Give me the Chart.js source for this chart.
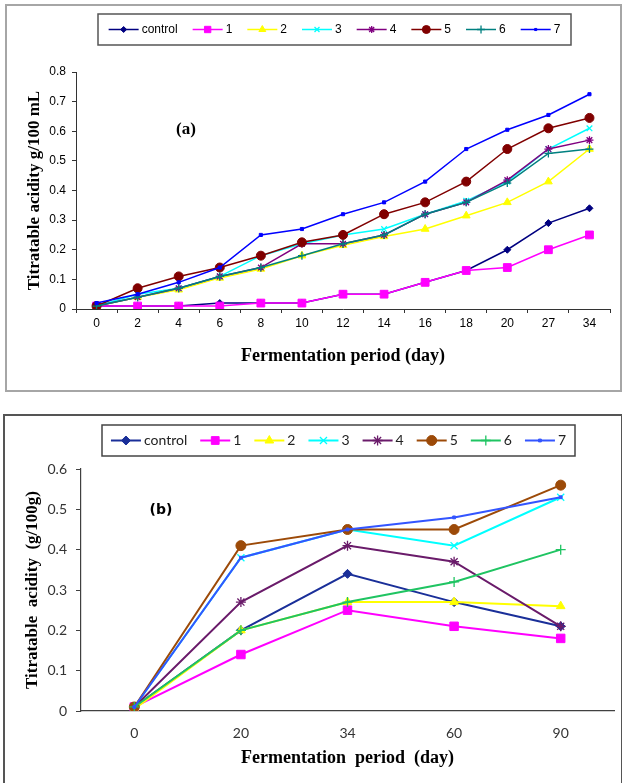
<!DOCTYPE html>
<html>
<head>
<meta charset="utf-8">
<script src="https://cdn.jsdelivr.net/npm/chart.js@4.4.1/dist/chart.umd.min.js"></script>
<style>
  body { margin: 0; background: #fff; }
  .box { position: absolute; box-sizing: border-box; }
  #boxA { left: 5px; top: 4px; width: 617px; height: 388px; border: 2px solid #a6a6a6; }
  #boxB { left: 3px; top: 414px; width: 620px; height: 376px; border: 2px solid #555; }
  canvas { display: block; }
</style>
</head>
<body>
<div class="box" id="boxA"><canvas id="graficoA" width="613" height="384"></canvas></div>
<div class="box" id="boxB"><canvas id="graficoB" width="616" height="372"></canvas></div>
<script>
const series = ['control', '1', '2', '3', '4', '5', '6', '7'];
const marcadores = ['rectRot', 'rect', 'triangle', 'crossRot', 'star', 'circle', 'cross', 'rect'];

// (a) acidez g/100 mL
const diasA = ['0', '2', '4', '6', '8', '10', '12', '14', '16', '18', '20', '27', '34'];
const controlA = [0.01, 0.01, 0.01, 0.02, 0.02, 0.02, 0.05, 0.05, 0.09, 0.13, 0.20, 0.29, 0.34];
const s1A = [0.01, 0.01, 0.01, 0.01, 0.02, 0.02, 0.05, 0.05, 0.09, 0.13, 0.14, 0.20, 0.25];
const s2A = [0.01, 0.04, 0.065, 0.105, 0.135, 0.18, 0.215, 0.245, 0.27, 0.315, 0.36, 0.43, 0.54];
const s3A = [0.01, 0.05, 0.07, 0.11, 0.18, 0.22, 0.25, 0.27, 0.32, 0.365, 0.43, 0.54, 0.61];
const s4A = [0.01, 0.04, 0.07, 0.11, 0.14, 0.22, 0.22, 0.25, 0.32, 0.36, 0.435, 0.54, 0.57];
const s5A = [0.01, 0.07, 0.11, 0.14, 0.18, 0.225, 0.25, 0.32, 0.36, 0.43, 0.54, 0.61, 0.645];
const s6A = [0.01, 0.04, 0.07, 0.11, 0.14, 0.18, 0.22, 0.25, 0.32, 0.36, 0.425, 0.525, 0.54];
const s7A = [0.02, 0.05, 0.09, 0.14, 0.25, 0.27, 0.32, 0.36, 0.43, 0.54, 0.605, 0.655, 0.725];
const ticksA = [0, 0.8, 0.1];

// (b) acidez g/100g
const diasB = ['0', '20', '34', '60', '90'];
const controlB = [0.01, 0.20, 0.34, 0.27, 0.21];
const s1B = [0.01, 0.14, 0.25, 0.21, 0.18];
const s2B = [0.005, 0.20, 0.27, 0.27, 0.26];
const s3B = [0.01, 0.38, 0.45, 0.41, 0.53];
const s4B = [0.01, 0.27, 0.41, 0.37, 0.21];
const s5B = [0.01, 0.41, 0.45, 0.45, 0.56];
const s6B = [0.01, 0.20, 0.27, 0.32, 0.40];
const s7B = [0.01, 0.38, 0.45, 0.48, 0.53];
const ticksB = [0, 0.6, 0.1];

const coresA = ['#000080', '#ff00ff', '#ffff00', '#00ffff', '#800080', '#800000', '#008080', '#0000ff'];
const coresB = ['#1a2f99', '#ff00ff', '#ffff00', '#00ffff', '#6a1b6a', '#9c4a08', '#1fc462', '#3355ff'];

// legenda com linha + marcador e rótulo do painel
const legendaBox = {
    id: 'legendaBox',
    afterDraw(chart, args, o) {
        const ctx = chart.ctx;
        const b = o.box;
        ctx.save();
        ctx.strokeStyle = o.borderColor;
        ctx.lineWidth = 1.5;
        ctx.strokeRect(b.left, b.top, b.right - b.left, b.bottom - b.top);
        ctx.font = o.font;
        ctx.textBaseline = 'middle';
        ctx.textAlign = 'left';
        const itens = chart.data.datasets.map(ds => ({ ds, w: ctx.measureText(ds.label).width }));
        const total = itens.reduce((s, it) => s + o.line + o.gap + it.w, 0) + o.space * (itens.length - 1);
        let x = (b.left + b.right) / 2 - total / 2;
        const y = (b.top + b.bottom) / 2;
        itens.forEach(({ ds, w }, i) => {
            ctx.strokeStyle = ds.borderColor;
            ctx.lineWidth = ds.borderWidth;
            ctx.beginPath();
            ctx.moveTo(x, y);
            ctx.lineTo(x + o.line, y);
            ctx.stroke();
            ctx.fillStyle = ds.pointBackgroundColor;
            ctx.strokeStyle = ds.pointBorderColor;
            ctx.lineWidth = ds.pointBorderWidth;
            Chart.helpers.drawPoint(ctx, { pointStyle: ds.pointStyle, radius: o.radius[i], rotation: 0, borderWidth: ds.pointBorderWidth }, x + o.line / 2, y);
            ctx.fillStyle = o.color;
            ctx.fillText(ds.label, x + o.line + o.gap, y);
            x += o.line + o.gap + w + o.space;
        });
        ctx.font = o.tagFont;
        ctx.textAlign = 'center';
        ctx.fillStyle = '#000';
        ctx.fillText(o.tag, o.tagX, o.tagY);
        ctx.restore();
    }
};

function montarSeries(valores, cores, raios, espessura) {
    return series.map((nome, i) => ({
        label: nome,
        data: valores[i],
        borderColor: cores[i],
        backgroundColor: cores[i],
        pointBackgroundColor: cores[i],
        pointBorderColor: cores[i],
        pointStyle: marcadores[i],
        pointRadius: raios[i],
        pointHoverRadius: raios[i],
        borderWidth: espessura,
        pointBorderWidth: ['cross', 'crossRot', 'star'].includes(marcadores[i]) ? 1.3 : 1,
        tension: 0,
        order: series.length - i
    }));
}

// gráfico (a)
new Chart(document.getElementById('graficoA'), {
    type: 'line',
    data: {
        labels: diasA,
        datasets: montarSeries([controlA, s1A, s2A, s3A, s4A, s5A, s6A, s7A], coresA,
            [3.5, 5.5, 4.5, 4, 4, 4.5, 4, 2.2], 1.5)
    },
    plugins: [legendaBox],
    options: {
        responsive: false,
        animation: false,
        layout: { padding: { top: 66, right: 10, bottom: 23, left: 0 } },
        plugins: {
            legend: { display: false },
            tooltip: { enabled: false },
            legendaBox: {
                box: { left: 91, top: 8, right: 564, bottom: 39 },
                borderColor: '#555',
                font: '12px "Liberation Sans"',
                color: '#000',
                line: 30, gap: 3, space: 15,
                radius: [3, 4.5, 4, 3.5, 3.5, 4, 4, 1.5],
                tag: '(a)', tagFont: 'bold 17px "Liberation Serif"', tagX: 179, tagY: 124
            }
        },
        scales: {
            x: {
                offset: true,
                grid: { offset: true, drawOnChartArea: false, tickLength: 4, color: '#333' },
                border: { color: '#333', width: 1 },
                ticks: { font: { family: 'Liberation Sans', size: 12 }, color: '#000', padding: 3 },
                title: { display: true, text: 'Fermentation period (day)', color: '#000',
                    font: { family: 'Liberation Serif', weight: 'bold', size: 18 }, padding: 0 },
                afterFit: s => { s.height = 58; }
            },
            y: {
                min: ticksA[0], max: ticksA[1],
                grid: { drawOnChartArea: false, tickLength: 4, color: '#333' },
                border: { color: '#333', width: 1 },
                ticks: { stepSize: ticksA[2], font: { family: 'Liberation Sans', size: 12 }, color: '#000', padding: 6 },
                title: { display: true, text: 'Titratable acidity g/100 mL', color: '#000',
                    font: { family: 'Liberation Serif', weight: 'bold', size: 17 }, padding: { top: 17, bottom: 0 } },
                afterFit: s => { s.width = 69; }
            }
        }
    }
});

// gráfico (b)
new Chart(document.getElementById('graficoB'), {
    type: 'line',
    data: {
        labels: diasB,
        datasets: montarSeries([controlB, s1B, s2B, s3B, s4B, s5B, s6B, s7B], coresB,
            [4.5, 6, 5, 5, 5, 5, 5, 2], 2)
    },
    plugins: [legendaBox],
    options: {
        responsive: false,
        animation: false,
        layout: { padding: { top: 53, right: 4, bottom: 19, left: 0 } },
        plugins: {
            legend: { display: false },
            tooltip: { enabled: false },
            legendaBox: {
                box: { left: 97, top: 9, right: 570, bottom: 40 },
                borderColor: '#444',
                font: '14px Lato',
                color: '#222',
                line: 30, gap: 3, space: 13,
                radius: [4.5, 5.5, 5, 5, 5, 5, 5, 2],
                tag: '(b)', tagFont: 'bold 14px "DejaVu Sans"', tagX: 156, tagY: 94
            }
        },
        scales: {
            x: {
                offset: true,
                grid: { display: false, drawTicks: false },
                border: { color: '#404040', width: 1.2 },
                ticks: { font: { family: 'Lato', size: 14 }, color: '#333', padding: 14 },
                title: { display: true, text: 'Fermentation  period  (day)', color: '#000',
                    font: { family: 'Liberation Serif', weight: 'bold', size: 18 }, padding: 0 },
                afterFit: s => { s.height = 58; }
            },
            y: {
                min: ticksB[0], max: ticksB[1],
                grid: { drawOnChartArea: false, tickLength: 5, color: '#404040' },
                border: { color: '#404040', width: 1.2 },
                ticks: { stepSize: ticksB[2], font: { family: 'Lato', size: 14 }, color: '#333', padding: 9 },
                title: { display: true, text: 'Titratable  acidity  (g/100g)', color: '#000',
                    font: { family: 'Liberation Serif', weight: 'bold', size: 17 }, padding: { top: 17, bottom: 0 } },
                afterFit: s => { s.width = 76; }
            }
        }
    }
});
</script>
</body>
</html>
